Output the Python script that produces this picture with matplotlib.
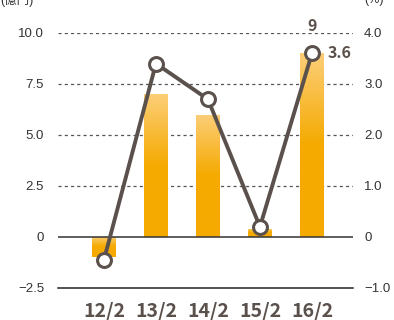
import numpy as np
import matplotlib.pyplot as plt
from matplotlib.colors import LinearSegmentedColormap

plt.rcParams['font.family'] = ['Noto Sans CJK JP', 'DejaVu Sans']

# Data
years = ['12/2', '13/2', '14/2', '15/2', '16/2']
profit = [-1.0, 7.0, 6.0, 0.4, 9.0]      # 億円 (bars, left axis)
margin = [-0.45, 3.4, 2.7, 0.2, 3.6]     # % (line, right axis)

line_color = '#5b514c'
tick_font = ['Liberation Sans', 'Noto Sans CJK JP']
bar_cmap = LinearSegmentedColormap.from_list('bar', ['#f5aa00', '#f5aa00', '#fcce78'])

fig = plt.figure(figsize=(3.94, 3.2), dpi=100)
ax = fig.add_axes([0.147, 0.1, 0.749, 0.797])
x = np.arange(len(years))

ax.set_xlim(-0.885, 4.79)
ax.set_ylim(-2.5, 10)

# Bars filled with a vertical gradient, lighter toward the top
bars = ax.bar(x, profit, width=0.46, color='none', zorder=2)
grad = np.linspace(0, 1, 256).reshape(-1, 1)
for b in bars:
    x0, y0 = b.get_x(), b.get_y()
    w, h = b.get_width(), b.get_height()
    lo, hi = min(y0, y0 + h), max(y0, y0 + h)
    im = ax.imshow(grad, cmap=bar_cmap, aspect='auto', origin='lower',
                   extent=[x0, x0 + w, lo, hi], zorder=2)
    im.set_clip_path(b)

# Grid lines
for v in [2.5, 5.0, 7.5, 10.0]:
    ax.axhline(v, color='#555555', lw=0.9, ls=(0, (2.5, 2.5)), zorder=1)
ax.axhline(0, color='#333333', lw=1.1, zorder=3)

for s in ['top', 'right', 'left']:
    ax.spines[s].set_visible(False)
ax.spines['bottom'].set_color('#222222')
ax.spines['bottom'].set_linewidth(1.1)

ax.set_yticks([-2.5, 0, 2.5, 5.0, 7.5, 10.0])
ax.set_yticklabels(['\u22122.5', '0', '2.5', '5.0', '7.5', '10.0'],
                   family=tick_font, fontsize=9.5, color='#333333')
ax.tick_params(axis='y', length=0, pad=10)
ax.set_xticks(x)
ax.set_xticklabels(years, fontsize=14, fontweight='bold', color=line_color)
ax.tick_params(axis='x', length=0, pad=10)

# Right axis with the margin line
ax2 = ax.twinx()
ax2.set_ylim(-1.0, 4.0)
for s in ['top', 'right', 'left', 'bottom']:
    ax2.spines[s].set_visible(False)
ax2.set_yticks([-1.0, 0, 1.0, 2.0, 3.0, 4.0])
ax2.set_yticklabels(['\u22121.0', '0', '1.0', '2.0', '3.0', '4.0'],
                    family=tick_font, fontsize=9.5, color='#333333')
ax2.tick_params(axis='y', length=0, pad=8)
ax2.plot(x, margin, color=line_color, lw=2.8, marker='o', ms=10,
         mfc='white', mec=line_color, mew=2.2, zorder=4, clip_on=False)

ax.text(x[-1], 10.1, '9', ha='center', va='baseline', fontsize=11.5,
        fontweight='bold', color=line_color, clip_on=False)
ax2.text(x[-1] + 0.3, margin[-1], '3.6', ha='left', va='center', fontsize=11.5,
         fontweight='bold', color=line_color)

# Unit labels
fig.text(0.0, 1.0, '(億円)', ha='left', va='center', fontsize=9,
         family=tick_font, color='#333333')
fig.text(0.925, 1.0, '(%)', ha='left', va='center', fontsize=9,
         family=tick_font, color='#333333')

fig.savefig('out.png', dpi=100)
